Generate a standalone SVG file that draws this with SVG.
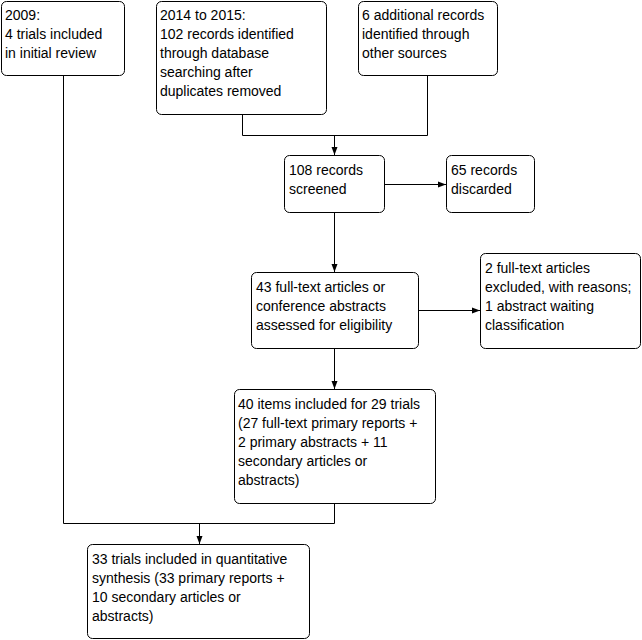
<svg xmlns="http://www.w3.org/2000/svg" width="642" height="640" viewBox="0 0 642 640">
<style>
.box{fill:#fff;stroke:#000;stroke-width:1}
.t{font-family:"Liberation Sans",Arial,sans-serif;font-size:14px;fill:#000}
.c{fill:none;stroke:#000;stroke-width:1}
</style>
<defs>
<marker id="ah" viewBox="0 0 8 8" refX="8" refY="4" markerWidth="8" markerHeight="8" markerUnits="userSpaceOnUse" orient="auto">
<path d="M0,1 L8,4 L0,7 Z" fill="#000"/>
</marker>
</defs>
<rect width="642" height="640" fill="#fff"/>
<g id="connectors">
<path class="c" d="M63.5,75 V523.5 H334.5 V503"/>
<path class="c" d="M199.5,523.5 V544" marker-end="url(#ah)"/>
<path class="c" d="M242.5,114 V135.5 H427.5 V75"/>
<path class="c" d="M334.5,135.5 V155" marker-end="url(#ah)"/>
<path class="c" d="M384,184.5 H446" marker-end="url(#ah)"/>
<path class="c" d="M334.5,212 V272" marker-end="url(#ah)"/>
<path class="c" d="M419,310.5 H480" marker-end="url(#ah)"/>
<path class="c" d="M334.5,348 V389" marker-end="url(#ah)"/>
</g>
<g id="n1"><rect class="box" x="1.5" y="1.5" width="123" height="74" rx="5"/>
<text class="t" x="5" y="20">2009:</text><text class="t" x="5" y="39">4 trials included</text><text class="t" x="5" y="58">in initial review</text></g>
<g id="n2"><rect class="box" x="156.5" y="1.5" width="170" height="113" rx="5"/>
<text class="t" x="160" y="20">2014 to 2015:</text><text class="t" x="160" y="39">102 records identified</text><text class="t" x="160" y="58">through database</text><text class="t" x="160" y="77">searching after</text><text class="t" x="160" y="96">duplicates removed</text></g>
<g id="n3"><rect class="box" x="358.5" y="1.5" width="139" height="74" rx="5"/>
<text class="t" x="362" y="20">6 additional records</text><text class="t" x="362" y="39">identified through</text><text class="t" x="362" y="58">other sources</text></g>
<g id="n4"><rect class="box" x="284.5" y="155.5" width="100" height="57" rx="5"/>
<text class="t" x="289" y="175">108 records</text><text class="t" x="289" y="194">screened</text></g>
<g id="n5"><rect class="box" x="446.5" y="155.5" width="88" height="57" rx="5"/>
<text class="t" x="451" y="175">65 records</text><text class="t" x="451" y="194">discarded</text></g>
<g id="n6"><rect class="box" x="251.5" y="272.5" width="167" height="76" rx="5"/>
<text class="t" x="256" y="292">43 full-text articles or</text><text class="t" x="256" y="311">conference abstracts</text><text class="t" x="256" y="330">assessed for eligibility</text></g>
<g id="n7"><rect class="box" x="480.5" y="253.5" width="160" height="95" rx="5"/>
<text class="t" x="485" y="273">2 full-text articles</text><text class="t" x="485" y="292">excluded, with reasons;</text><text class="t" x="485" y="311">1 abstract waiting</text><text class="t" x="485" y="330">classification</text></g>
<g id="n8"><rect class="box" x="234.5" y="389.5" width="201" height="114" rx="5"/>
<text class="t" x="238" y="409">40 items included for 29 trials</text><text class="t" x="238" y="428">(27 full-text primary reports +</text><text class="t" x="238" y="447">2 primary abstracts + 11</text><text class="t" x="238" y="466">secondary articles or</text><text class="t" x="238" y="485">abstracts)</text></g>
<g id="n9"><rect class="box" x="87.5" y="544.5" width="222" height="94" rx="5"/>
<text class="t" x="92" y="564">33 trials included in quantitative</text><text class="t" x="92" y="583">synthesis (33 primary reports +</text><text class="t" x="92" y="602">10 secondary articles or</text><text class="t" x="92" y="621">abstracts)</text></g>
</svg>
